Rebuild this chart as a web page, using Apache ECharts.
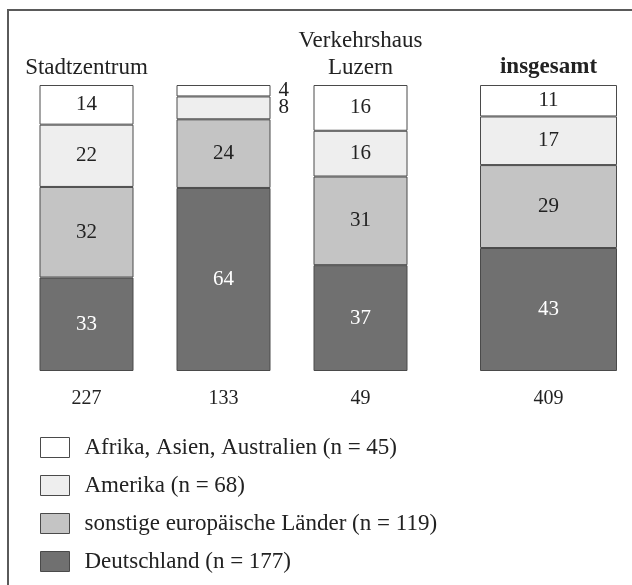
<!DOCTYPE html>
<html><head><meta charset="utf-8">
<script src="https://cdn.jsdelivr.net/npm/echarts@6/dist/echarts.min.js"></script>
<style>html,body{margin:0;padding:0;background:#fff}#c{width:632px;height:585px}</style>
</head><body><div id="c"></div>
<script>
// ---- data ----
const sites = ['Stadtzentrum', 'Kunsthaus', 'Verkehrshaus\nLuzern'];
const siteN = [227, 133, 49];
const totalLabel = ['insgesamt'];
const totalN = [409];
const groups = ['Afrika, Asien, Australien', 'Amerika', 'sonstige europäische Länder', 'Deutschland'];
const groupN = [45, 68, 119, 177];
// per site, in order of sites
const afrikaAsien = [14, 4, 16];
const amerika = [22, 8, 16];
const europa = [32, 24, 31];
const deutschland = [33, 64, 37];
// insgesamt, in order of groups
const insgesamt = [11, 17, 29, 43];

// ---- build ----
const siteVals = [afrikaAsien, amerika, europa, deutschland];
const fills = ['#ffffff', '#eeeeee', '#c4c4c4', '#707070'];
const labelColors = ['#222', '#222', '#222', '#fff'];
const FONT = 'Liberation Serif';
const names = groups.map((g, i) => g + ' (n = ' + groupN[i] + ')');

const siteTotals = sites.map((s, i) => siteVals.reduce((a, arr) => a + arr[i], 0));
const totalSum = insgesamt.reduce((a, b) => a + b, 0);

function makeItem(v, tot) {
  const item = { value: v / tot * 100, raw: v };
  if (v < 10) {
    item.label = { position: 'right', distance: 8, color: '#222' };
  }
  return item;
}

const series = [];
// stacking bottom to top: Deutschland, europa, amerika, afrika
for (let g = groups.length - 1; g >= 0; g--) {
  const common = {
    name: names[g],
    type: 'bar',
    itemStyle: { color: fills[g], borderColor: '#4a4a4a', borderWidth: 1 },
    label: {
      show: true, position: 'inside', fontFamily: FONT, fontSize: 21, color: labelColors[g],
      formatter: p => String(p.data.raw)
    },
    emphasis: { disabled: true },
    animation: false
  };
  series.push(Object.assign({}, common, {
    stack: 's0', xAxisIndex: 0, yAxisIndex: 0, barWidth: 94,
    data: sites.map((s, i) => makeItem(siteVals[g][i], siteTotals[i]))
  }));
  series.push(Object.assign({}, common, {
    stack: 's1', xAxisIndex: 2, yAxisIndex: 1, barWidth: 137,
    data: [makeItem(insgesamt[g], totalSum)]
  }));
}

const hidden = { axisLine: { show: false }, axisTick: { show: false }, splitLine: { show: false } };
const topLabel = { fontFamily: FONT, fontSize: 23, lineHeight: 27, color: '#222', margin: 4 };
const botLabel = { fontFamily: FONT, fontSize: 20, color: '#222', margin: 18 };

const option = {
  backgroundColor: '#fff',
  animation: false,
  grid: [
    { left: 18, width: 411, top: 85, height: 286 },
    { left: 480, width: 137, top: 85, height: 286 }
  ],
  xAxis: [
    Object.assign({ type: 'category', gridIndex: 0, position: 'top', data: sites, axisLabel: topLabel }, hidden),
    Object.assign({ type: 'category', gridIndex: 0, position: 'bottom', data: siteN.map(String), axisLabel: botLabel }, hidden),
    Object.assign({ type: 'category', gridIndex: 1, position: 'top', data: totalLabel, axisLabel: Object.assign({}, topLabel, { fontWeight: 'bold' }) }, hidden),
    Object.assign({ type: 'category', gridIndex: 1, position: 'bottom', data: totalN.map(String), axisLabel: botLabel }, hidden)
  ],
  yAxis: [
    { type: 'value', gridIndex: 0, min: 0, max: 100, show: false },
    { type: 'value', gridIndex: 1, min: 0, max: 100, show: false }
  ],
  legend: {
    orient: 'vertical', left: 40, top: 436, padding: 0,
    data: names,
    icon: 'rect', itemWidth: 29, itemHeight: 20, itemGap: 15,
    itemStyle: { borderColor: '#4a4a4a', borderWidth: 1 },
    textStyle: { fontFamily: FONT, fontSize: 23, color: '#222', padding: [0, 0, 0, 10] },
    selectedMode: false
  },
  graphic: [{
    type: 'polyline', silent: true,
    shape: { points: [[8, 585], [8, 10], [632, 10]] },
    style: { stroke: '#5a5a5a', lineWidth: 2, fill: null }
  }],
  series: series
};

const chart = echarts.init(document.getElementById('c'), null, { renderer: 'canvas' });
chart.setOption(option);
</script>
</body></html>
